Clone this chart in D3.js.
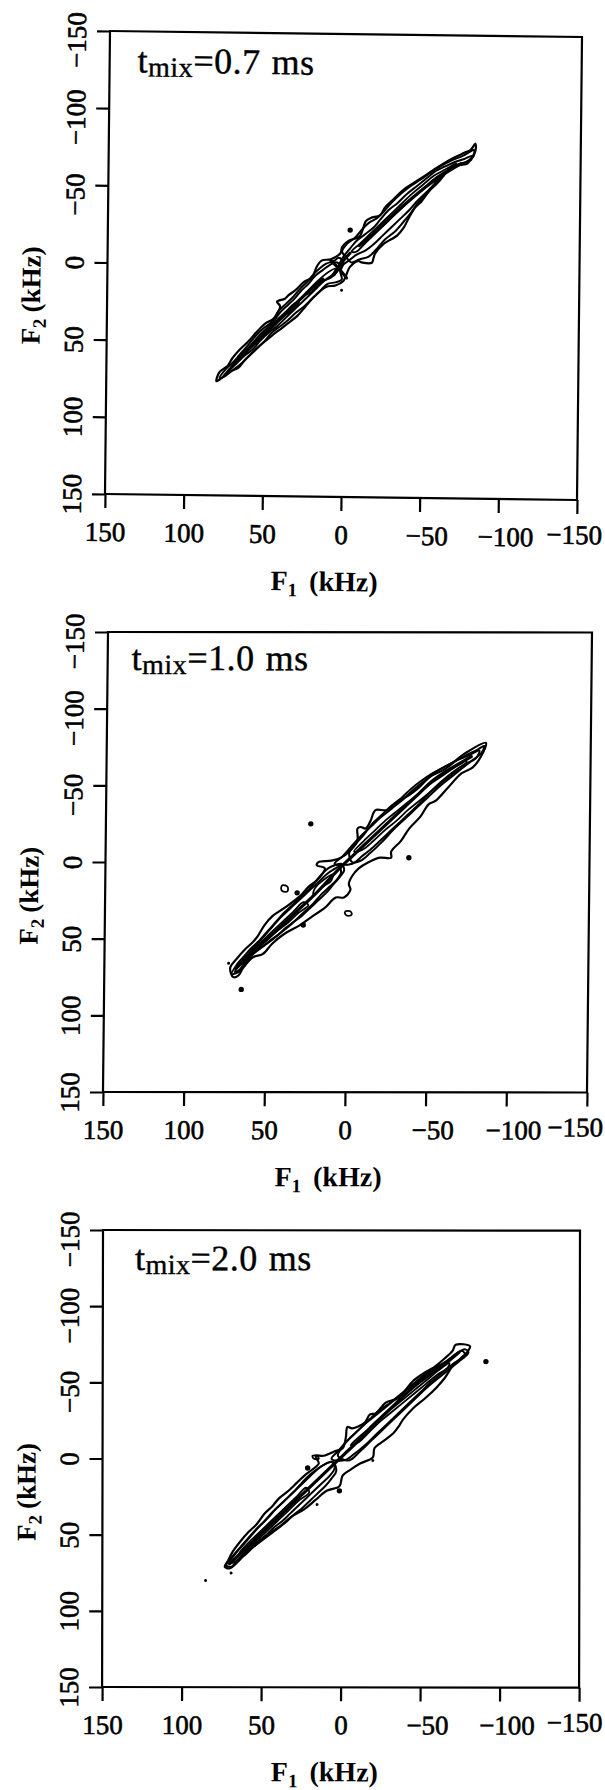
<!DOCTYPE html>
<html>
<head>
<meta charset="utf-8">
<script src="https://cdnjs.cloudflare.com/ajax/libs/d3/7.8.5/d3.min.js"></script>
<style>
  body { margin: 0; background: #fff; }
</style>
</head>
<body>
<script>
// tick values, same on both axes of every panel
var ticks = [150, 100, 50, 0, -50, -100, -150];
var mixTimes = ["0.7", "1.0", "2.0"];

// ---- panel 1 (tmix = 0.7 ms), points are [F1, F2] in kHz ----
var p1Outer = [
  [80,76],[78,70],[73,66],[70,61],[65,55],[60,50],[54,43],[49,38],[44,35],[40,27],[42,24],[37,22],[35,20],
  [30,16],[25,11],[20,8],[17,1],[14,-3],[8,-4],[2,-8],[1,-12],[-3,-16],[-10,-19],[-14,-29],[-17,-31],
  [-23,-33],[-26,-38],[-31,-43],[-37,-49],[-44,-54],[-50,-58],[-57,-63],[-63,-67],[-70,-71],[-76,-74],
  [-80,-76],[-83,-80],[-83,-75],[-80,-70],[-78,-67],[-73,-66],[-67,-64],[-63,-59],[-59,-54],[-54,-49],
  [-49,-42],[-45,-38],[-41,-31],[-38,-25],[-34,-20],[-25,-14],[-20,-8],[-19,-5],[-18,-2],[-12,-2],[-9,-3],
  [-4,1],[0,10],[5,13],[11,14],[18,20],[24,27],[29,33],[35,38],[40,42],[45,46],[52,52],[57,57],[62,62],
  [66,67],[72,70],[78,75]
];
var p1Level2 = [
  [[76,73],[71,67],[67,62],[63,58],[58,52],[53,46],[48,41],[44,37],[40,31],[35,26],[31,22],[27,17],[22,12],
   [18,7],[13,3],[9,0],[5,-2],[2,0],[4,4],[8,8],[12,10],[17,15],[22,20],[27,25],[32,30],[37,35],[42,40],
   [47,44],[52,49],[57,55],[62,59],[67,64],[72,69]],
  [[3,1],[0,-6],[-4,-11],[-8,-16],[-13,-20],[-19,-25],[-23,-30],[-28,-36],[-34,-41],[-40,-47],[-46,-52],
   [-52,-57],[-58,-62],[-64,-65],[-70,-68],[-76,-70],[-81,-72],[-80,-69],[-74,-67],[-68,-64],[-62,-59],
   [-57,-53],[-52,-48],[-46,-42],[-41,-36],[-36,-31],[-31,-26],[-25,-20],[-19,-14],[-14,-10],[-8,-7],[-3,-3]],
  [[78,74],[74,68],[69,63],[64,57],[59,51],[55,46],[50,41],[45,37],[41,30],[36,25],[32,21],[27,15],[23,11],
   [19,6],[15,2],[11,-1],[6,-3],[3,-5],[0,-2],[2,4],[1,9],[5,11],[10,12],[15,17],[20,22],[25,27],[30,31],
   [35,36],[40,40],[45,44],[50,50],[55,55],[60,60],[65,65],[70,69],[75,73]],
  [[1,-9],[-2,-14],[-7,-18],[-12,-24],[-16,-28],[-21,-31],[-25,-35],[-30,-41],[-36,-47],[-42,-52],[-48,-56],
   [-55,-61],[-61,-65],[-68,-69],[-75,-72],[-80,-75],[-82,-76],[-82,-72],[-77,-68],[-71,-66],[-65,-62],
   [-60,-57],[-55,-51],[-50,-45],[-46,-40],[-42,-34],[-38,-29],[-33,-23],[-26,-17],[-21,-11],[-16,-6],
   [-10,-4],[-5,-2],[-2,-5]]
];
var p1Level3 = [
  [[68,64],[62,57],[56,51],[51,46],[46,41],[41,35],[36,30],[31,25],[28,24],[32,29],[37,33],[42,38],[47,43],
   [52,48],[57,53],[63,59]],
  [[24,19],[19,13],[14,8],[9,4],[5,2],[7,6],[11,9],[16,13],[21,18]],
  [[-5,-9],[-10,-14],[-16,-20],[-22,-26],[-29,-33],[-36,-40],[-43,-47],[-50,-53],[-57,-59],[-64,-63],
   [-71,-67],[-70,-65],[-63,-61],[-56,-56],[-49,-49],[-42,-43],[-35,-36],[-28,-29],[-21,-22],[-14,-15],[-8,-9]]
];
var p1Core = [
  [[66,60],[58,53],[50,45],[42,37],[34,29],[27,22],[20,15],[13,9]],
  [[8,-3],[3,2],[-2,8]],
  [[-4,-8],[1,-2],[6,6]],
  [[-10,-13],[-20,-22],[-32,-34],[-44,-45],[-56,-55],[-66,-62],[-74,-67]]
];
var p1Spots = [[-4,-23]];
var p1Specks = [[1,16]];

// ---- panel 2 (tmix = 1.0 ms) ----
var p2Outer = [
  [-85,-78],[-72,-71],[-60,-61],[-51,-56],[-43,-48],[-38,-44],[-30,-39],[-24,-34],[-17,-34],[-14,-27],
  [-11,-22],[-8,-23],[-6,-22],[-6,-14],[-1,-7],[4,-3],[10,-1],[18,0],[19,2],[14,4],[19,12],[24,16],
  [29,22],[39,30],[46,35],[51,41],[55,48],[58,52],[63,57],[68,63],[72,69],[70,75],
  [67,74],[64,69],[58,62],[52,60],[46,53],[39,47],[29,41],[21,35],[14,30],[7,23],[2,23],[-2,18],[-1,14],
  [-3,9],[-7,4],[-13,0],[-20,-3],[-27,-3],[-27,-7],[-33,-14],[-38,-22],[-45,-30],[-50,-38],[-54,-40],
  [-62,-49],[-70,-58],[-77,-62],[-82,-69]
];
var p2Level2 = [
  [[69,72],[66,66],[61,60],[56,54],[51,48],[46,42],[41,36],[36,31],[31,26],[26,21],[21,16],[17,12],[13,8],
   [9,5],[5,3],[4,7],[7,12],[11,16],[16,21],[21,27],[26,32],[31,37],[36,42],[41,46],[46,50],[52,55],
   [57,59],[62,64],[66,70]],
  [[8,1],[3,-4],[-2,-10],[-8,-17],[-14,-23],[-20,-29],[-27,-35],[-34,-41],[-40,-47],[-47,-53],[-54,-59],
   [-61,-63],[-68,-67],[-75,-70],[-81,-73],[-79,-68],[-72,-64],[-65,-59],[-58,-53],[-51,-46],[-44,-38],
   [-37,-31],[-30,-24],[-23,-17],[-16,-10],[-9,-4],[-3,1]],
  [[71,73],[68,67],[64,62],[59,56],[54,51],[49,45],[44,39],[39,33],[34,28],[29,23],[24,18],[20,13],[16,8],
   [12,4],[8,2],[4,1],[2,5],[5,10],[9,15],[13,20],[18,25],[23,30],[28,35],[33,39],[38,43],[43,48],[48,52],
   [53,56],[58,60],[62,65],[66,71]],
  [[-1,-6],[-5,-12],[-10,-18],[-15,-25],[-21,-31],[-27,-37],[-33,-42],[-39,-48],[-45,-53],[-52,-58],
   [-59,-62],[-66,-66],[-73,-70],[-79,-73],[-84,-76],[-82,-71],[-76,-66],[-70,-61],[-63,-55],[-56,-49],
   [-49,-42],[-42,-35],[-35,-28],[-28,-21],[-21,-13],[-14,-6],[-8,-1],[-3,0]]
];
var p2Level3 = [
  [[63,63],[57,56],[51,50],[45,44],[39,38],[33,32],[27,26],[24,28],[30,33],[36,39],[42,44],[48,49],[54,54],
   [60,60]],
  [[20,17],[14,11],[9,8],[10,12],[15,16],[21,21]],
  [[-4,-7],[-10,-14],[-17,-21],[-24,-28],[-31,-34],[-38,-40],[-45,-46],[-52,-52],[-59,-57],[-66,-62],
   [-73,-66],[-72,-63],[-65,-58],[-58,-52],[-51,-46],[-44,-40],[-37,-34],[-30,-27],[-23,-21],[-16,-14],[-9,-8]],
  [[40,15],[37,16],[37,19],[40,19],[41,17]],
  [[1,32],[-2,32],[-3,34],[-1,35],[1,34]]
];
var p2Core = [
  [[68,69],[60,61],[52,53],[44,45],[36,37],[28,29],[20,21],[12,12],[4,3],[-4,-5],[-12,-13],[-20,-21],
   [-28,-29],[-36,-37],[-44,-45],[-52,-53],[-60,-59],[-68,-64],[-76,-69]]
];
var p2Spots = [[65,83],[23,-25],[-38,-3],[31,20],[27,41]];
var p2Specks = [[73,66]];

// ---- panel 3 (tmix = 2.0 ms) ----
var p3Outer = [
  [-81,-74],[-72,-75],[-70,-71],[-65,-66],[-58,-60],[-53,-57],[-45,-51],[-41,-46],[-36,-40],[-28,-37],
  [-22,-30],[-18,-29],[-15,-24],[-7,-20],[-4,-21],[-3,-14],[-1,-7],[4,-5],[11,-2],[16,-2],[14,3],[18,7],
  [23,11],[28,16],[33,21],[39,26],[43,31],[48,36],[53,43],[58,48],[63,54],[68,61],[71,67],[73,71],
  [70,72],[65,68],[60,62],[53,56],[45,49],[38,44],[31,38],[23,33],[16,27],[9,21],[1,18],[-1,11],[-6,7],
  [-12,3],[-20,-1],[-21,-7],[-27,-12],[-33,-17],[-36,-21],[-39,-26],[-45,-33],[-53,-40],[-60,-47],
  [-65,-53],[-70,-61],[-75,-66],[-79,-70]
];
var p3Level2 = [
  [[70,68],[66,62],[61,56],[56,50],[51,44],[46,39],[41,33],[36,28],[31,23],[26,18],[21,13],[16,8],[11,4],
   [6,2],[4,6],[7,11],[12,16],[17,21],[22,26],[27,31],[32,36],[37,41],[42,45],[47,50],[52,54],[57,58],
   [62,63],[67,68]],
  [[6,0],[2,-5],[-3,-11],[-9,-17],[-15,-23],[-21,-28],[-28,-34],[-35,-40],[-42,-46],[-49,-52],[-56,-57],
   [-63,-62],[-70,-67],[-76,-71],[-78,-68],[-71,-63],[-64,-57],[-57,-51],[-50,-44],[-43,-37],[-36,-30],
   [-29,-23],[-22,-16],[-15,-9],[-8,-3],[-2,1]],
  [[72,70],[68,64],[64,59],[59,53],[54,47],[49,42],[44,36],[39,31],[34,26],[29,21],[24,15],[19,10],[14,6],
   [9,3],[5,2],[3,8],[6,13],[10,18],[15,23],[20,28],[25,33],[30,37],[35,42],[40,46],[45,50],[50,54],
   [55,58],[60,63],[65,67],[69,71]],
  [[2,-2],[-1,-8],[-6,-14],[-12,-20],[-18,-26],[-24,-32],[-31,-37],[-38,-43],[-45,-49],[-52,-55],[-59,-60],
   [-66,-64],[-72,-69],[-78,-72],[-80,-70],[-74,-64],[-68,-59],[-61,-53],[-54,-47],[-47,-40],[-40,-33],
   [-33,-26],[-26,-19],[-19,-12],[-12,-5],[-5,1]]
];
var p3Level3 = [
  [[64,62],[58,55],[52,49],[46,43],[40,37],[34,31],[28,25],[22,19],[20,22],[26,27],[32,33],[38,39],[44,45],
   [50,51],[56,56],[62,61]],
  [[-6,-9],[-12,-15],[-19,-21],[-26,-28],[-33,-34],[-40,-40],[-47,-46],[-54,-52],[-61,-58],[-68,-63],
   [-67,-60],[-60,-55],[-53,-49],[-46,-43],[-39,-37],[-32,-31],[-25,-25],[-18,-18],[-11,-11]],
  [[18,-2],[15,-2],[14,0],[17,0]]
];
var p3Core = [
  [[70,69],[62,61],[54,53],[46,45],[38,37],[30,29],[22,21],[14,13],[6,5],[-2,-3],[-10,-11],[-18,-20],
   [-26,-28],[-34,-36],[-42,-44],[-50,-51],[-58,-57],[-66,-63],[-74,-70]]
];
var p3Spots = [[21,6],[1,21],[-91,-64]];
var p3Specks = [[69,75],[85,80],[-77,-67],[15,30],[-20,1]];

// layout of the three scanned frames (slightly sheared like the scan)
var panels = [
  { x0: 110, y0: 31,   w: 472, h: 463, kx: -0.0108, ky: 0.0127, tx: 28, ty: 41, lastDx: 25,
    outer: p1Outer, l2: p1Level2, l3: p1Level3, core: p1Core, spots: p1Spots, specks: p1Specks },
  { x0: 108, y0: 632,  w: 484, h: 460, kx: -0.0109, ky: 0.001,  tx: 24, ty: 38, lastDx: 16,
    outer: p2Outer, l2: p2Level2, l3: p2Level3, core: p2Core, spots: p2Spots, specks: p2Specks },
  { x0: 103, y0: 1230, w: 477, h: 457, kx: -0.002,  ky: 0.0015, tx: 32, ty: 40, lastDx: 23,
    outer: p3Outer, l2: p3Level2, l3: p3Level3, core: p3Core, spots: p3Spots, specks: p3Specks }
];

var serif = "'Liberation Serif', 'Times New Roman', Times, serif";

var svg = d3.select("body").append("svg")
    .attr("width", 605)
    .attr("height", 1790)
    .style("display", "block");

// minus sign like the print
function fmt(d) { return d < 0 ? "\u2212" + (-d) : "" + d; }

panels.forEach(function(p, i) {

  var x = d3.scaleLinear().domain([150, -150]).range([0, p.w]);
  var y = d3.scaleLinear().domain([-150, 150]).range([0, p.h]);

  var g = svg.append("g")
      .attr("transform", "matrix(1," + p.ky + "," + p.kx + ",1," + p.x0 + "," + p.y0 + ")");

  // frame
  g.append("rect")
      .attr("width", p.w)
      .attr("height", p.h)
      .attr("fill", "none")
      .attr("stroke", "#000")
      .attr("stroke-width", 2.2);

  // bottom axis (F1)
  var xa = g.append("g")
      .attr("transform", "translate(0," + p.h + ")")
      .call(d3.axisBottom(x).tickValues(ticks).tickSize(14).tickSizeOuter(0).tickFormat(fmt));
  xa.attr("font-size", 27).attr("font-family", serif);
  xa.select(".domain").remove();
  xa.selectAll("line").attr("stroke", "#000").attr("stroke-width", 2.2);
  xa.selectAll("text")
      .attr("fill", "#000")
      .attr("stroke", "#000")
      .attr("stroke-width", 0.6)
      .attr("y", function(d) { return d === -150 ? 44 : 47; })
      .attr("dy", 0)
      .attr("text-anchor", function(d) { return d === -150 ? "end" : "middle"; })
      .attr("dx", function(d) { return d === -150 ? p.lastDx : (d < 0 ? 7 : 0); });

  // left axis (F2), labels turned like the print
  var ya = g.append("g")
      .call(d3.axisLeft(y).tickValues(ticks).tickSize(13).tickSizeOuter(0).tickFormat(fmt));
  ya.attr("font-size", 27).attr("font-family", serif);
  ya.select(".domain").remove();
  ya.selectAll("line").attr("stroke", "#000").attr("stroke-width", 2.2);
  ya.selectAll("text")
      .attr("fill", "#000")
      .attr("stroke", "#000")
      .attr("stroke-width", 0.6)
      .attr("transform", "rotate(-90)")
      .attr("text-anchor", "middle")
      .attr("x", function(d) { return d < 0 ? -9 : 0; })
      .attr("y", -24)
      .attr("dy", 0);

  // contour rings
  var ring = d3.line()
      .x(function(d) { return x(d[0]); })
      .y(function(d) { return y(d[1]); })
      .curve(d3.curveCatmullRomClosed.alpha(0.5));
  var open = d3.line()
      .x(function(d) { return x(d[0]); })
      .y(function(d) { return y(d[1]); })
      .curve(d3.curveCatmullRom.alpha(0.5));

  var c = g.append("g")
      .attr("fill", "none")
      .attr("stroke", "#000")
      .attr("stroke-linejoin", "round")
      .attr("stroke-linecap", "round");

  c.append("path").attr("d", ring(p.outer)).attr("stroke-width", 2.2);
  c.selectAll(".l2").data(p.l2).enter().append("path")
      .attr("d", ring).attr("stroke-width", 2.0);
  c.selectAll(".l3").data(p.l3).enter().append("path")
      .attr("d", ring).attr("stroke-width", 1.8);
  c.selectAll(".core").data(p.core).enter().append("path")
      .attr("d", open).attr("stroke-width", 3.2);

  g.selectAll(".spot").data(p.spots).enter().append("circle")
      .attr("cx", function(d) { return x(d[0]); })
      .attr("cy", function(d) { return y(d[1]); })
      .attr("r", 2.7)
      .attr("fill", "#000");
  g.selectAll(".speck").data(p.specks).enter().append("circle")
      .attr("cx", function(d) { return x(d[0]); })
      .attr("cy", function(d) { return y(d[1]); })
      .attr("r", 1.5)
      .attr("fill", "#000");

  // mixing time label
  var t = g.append("text")
      .attr("x", p.tx)
      .attr("y", p.ty)
      .attr("font-family", serif)
      .attr("font-size", 36)
      .attr("stroke", "#000")
      .attr("stroke-width", 0.4)
      .attr("letter-spacing", 0.5);
  t.append("tspan").text("t");
  t.append("tspan").attr("font-size", 28).attr("dy", 4).text("mix");
  t.append("tspan").attr("dy", -4).text("=" + mixTimes[i]);
  t.append("tspan").attr("dx", 11).text("ms");

  // F1 axis title
  var xl = g.append("text")
      .attr("x", p.w / 2 - 16)
      .attr("y", p.h + 94)
      .attr("text-anchor", "middle")
      .attr("font-family", serif)
      .attr("font-weight", "bold")
      .attr("font-size", 28);
  xl.append("tspan").text("F");
  xl.append("tspan").attr("font-size", 19).attr("dy", 6).text("1");
  xl.append("tspan").attr("dy", -6).attr("dx", 12).text("(kHz)");

  // F2 axis title
  var yl = g.append("text")
      .attr("transform", "translate(-67," + y(22) + ") rotate(-90)")
      .attr("text-anchor", "middle")
      .attr("font-family", serif)
      .attr("font-weight", "bold")
      .attr("font-size", 27);
  yl.append("tspan").text("F");
  yl.append("tspan").attr("font-size", 19).attr("dy", 6).text("2");
  yl.append("tspan").attr("dy", -6).attr("dx", 6).text("(kHz)");
});
</script>
</body>
</html>
